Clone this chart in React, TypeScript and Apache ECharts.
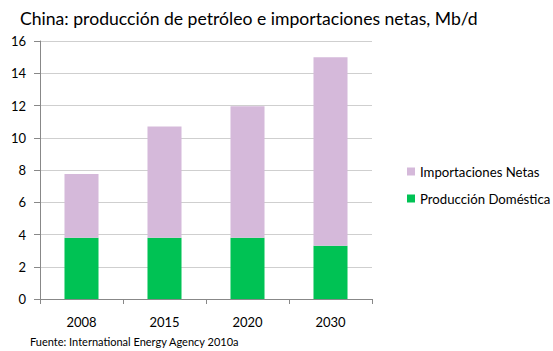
import React, { useEffect, useRef } from "react";
import * as echarts from "echarts";

const categories = ["2008", "2015", "2020", "2030"];
const produccion = [3.8, 3.8, 3.8, 3.3];
const importaciones = [3.95, 6.9, 8.15, 11.7];
const yTicks = [0, 2, 4, 6, 8, 10, 12, 14, 16];

const FONT = "Lato, 'Open Sans', sans-serif";

export default function App() {
  const ref = useRef<HTMLDivElement>(null);
  useEffect(() => {
    if (!ref.current) return;
    const chart = echarts.init(ref.current, null, { renderer: "svg" });
    chart.setOption({
      animation: false,
      backgroundColor: "#ffffff",
      textStyle: { fontFamily: FONT },
      title: {
        text: "China: producción de petróleo e importaciones netas, Mb/d",
        left: 15,
        top: 4,
        textStyle: { fontFamily: FONT, fontSize: 17.6, fontWeight: "normal", color: "#000" },
      },
      legend: {
        orient: "vertical",
        left: 402,
        top: 160,
        itemWidth: 8,
        itemHeight: 8,
        itemGap: 14,
        icon: "rect",
        data: ["Importaciones Netas", "Producción Doméstica"],
        textStyle: { fontFamily: FONT, fontSize: 13.2, color: "#000" },
      },
      grid: { left: 40, right: 181, top: 41, bottom: 52 },
      xAxis: {
        type: "category",
        data: categories,
        axisLine: { lineStyle: { color: "#888" } },
        axisTick: { show: true, length: 5, lineStyle: { color: "#888" } },
        axisLabel: { color: "#000", fontSize: 13, margin: 16, fontFamily: FONT },
      },
      yAxis: {
        type: "value",
        min: 0,
        max: 16,
        interval: 2,
        axisLine: { show: true, lineStyle: { color: "#888" } },
        axisTick: { show: true, length: 6, lineStyle: { color: "#888" } },
        axisLabel: {
          color: "#000",
          fontSize: 13,
          margin: 14,
          fontFamily: FONT,
          formatter: (v: number) => (yTicks.includes(v) ? String(v) : ""),
        },
        splitLine: { lineStyle: { color: "#cfcfcf" } },
      },
      series: [
        {
          name: "Producción Doméstica",
          type: "bar",
          stack: "total",
          data: produccion,
          barWidth: "41%",
          itemStyle: { color: "#00c254" },
        },
        {
          name: "Importaciones Netas",
          type: "bar",
          stack: "total",
          data: importaciones,
          barWidth: "41%",
          itemStyle: { color: "#d5b9da" },
        },
      ],
      graphic: [
        {
          type: "text",
          left: 30,
          top: 336,
          style: {
            text: "Fuente: International Energy Agency 2010a",
            fontFamily: FONT,
            fontSize: 11,
            fill: "#000",
          },
        },
      ],
    });
    return () => chart.dispose();
  }, []);
  return <div ref={ref} style={{ width: 553, height: 351, position: "absolute", left: 0, top: 0 }} />;
}
